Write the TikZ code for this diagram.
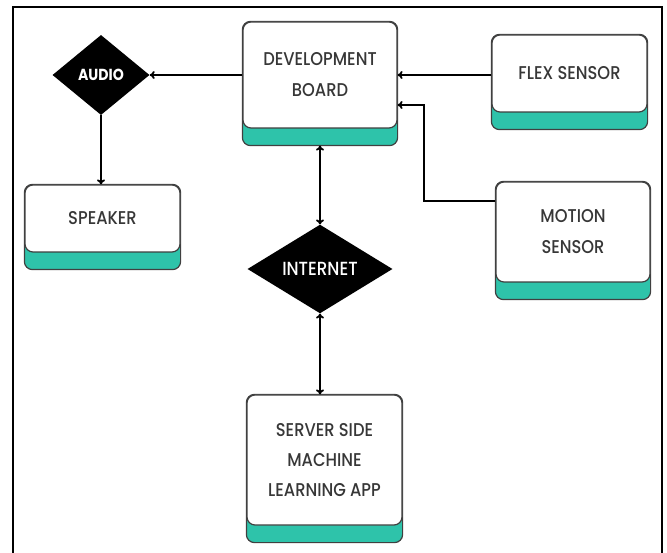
\documentclass[tikz,border=0pt]{standalone}
\usepackage{fontspec}
\setmainfont{Poppins Medium}[FakeStretch=0.88, BoldFont=Poppins Bold, BoldFeatures={FakeStretch=0.88}]
\usetikzlibrary{shapes.geometric,arrows.meta,backgrounds}
\definecolor{cardgreen}{RGB}{46,195,170}
\definecolor{cardtext}{RGB}{55,55,55}
\tikzset{
  card/.style={draw=black!75, fill=white, line width=1.2pt, rounded corners=8pt,
    text=cardtext, align=center, font=\fontsize{18.5}{31}\selectfont, inner sep=0pt},
  cardbase/.style={draw=black!75, fill=cardgreen, line width=1.2pt, rounded corners=8pt},
  gate/.style={diamond, fill=black, text=white, inner sep=0pt},
  link/.style={line width=1.8pt, -{To[length=5pt,width=8pt]}},
  duplex/.style={line width=1.8pt, {To[length=5pt,width=8pt]}-{To[length=5pt,width=8pt]}}
}

\begin{document}
\begin{tikzpicture}[x=1pt, y=-1pt]
\useasboundingbox (0,0) rectangle (667,553);
\draw[line width=1.8pt] (13,553) -- (13,7) -- (662,7) -- (662,553);

\node[card, minimum width=154pt, minimum height=106pt] (board) at (320,75) {DEVELOPMENT\\BOARD};
\node[card, minimum width=155pt, minimum height=77pt] (flex) at (569.5,73.5) {FLEX SENSOR};
\node[card, minimum width=154pt, minimum height=100pt] (motion) at (573,232) {MOTION\\SENSOR};
\node[card, minimum width=155pt, minimum height=67pt] (speaker) at (102.5,218.5) {SPEAKER};
\node[card, minimum width=155pt, minimum height=130pt, font=\fontsize{18.5}{30}\selectfont] (server) at (324.5,460) {SERVER SIDE\\MACHINE\\LEARNING APP};

\node[gate, minimum width=97pt, minimum height=80pt, font=\fontsize{16}{18}\selectfont\bfseries] (audio) at (101,75) {AUDIO};
\node[gate, minimum width=145pt, minimum height=82pt, font=\fontsize{19}{21}\selectfont] (internet) at (320,269) {INTERNET};

% green bases under the cards
\begin{scope}[on background layer]
\foreach \n in {board, flex, motion, speaker, server}
  \draw[cardbase] (\n.north west) rectangle ([yshift=-17pt]\n.south east);
\end{scope}

\coordinate (boardfoot) at ([yshift=-17pt]board.south);
\coordinate (motionin) at ([yshift=-20pt]motion.north west);
\coordinate (boardin) at ([yshift=-30pt]board.east);

\draw[link] (board.west) -- (audio.east);
\draw[link] (flex.west |- board.east) -- (board.east);
\draw[link] (motionin) -| ([xshift=26pt]boardin) -- (boardin);
\draw[link] (audio.south) -- (speaker.north -| audio.south);
\draw[duplex] (boardfoot) -- (internet.north);
\draw[duplex] (internet.south) -- (server.north -| internet.south);
\end{tikzpicture}
\end{document}
